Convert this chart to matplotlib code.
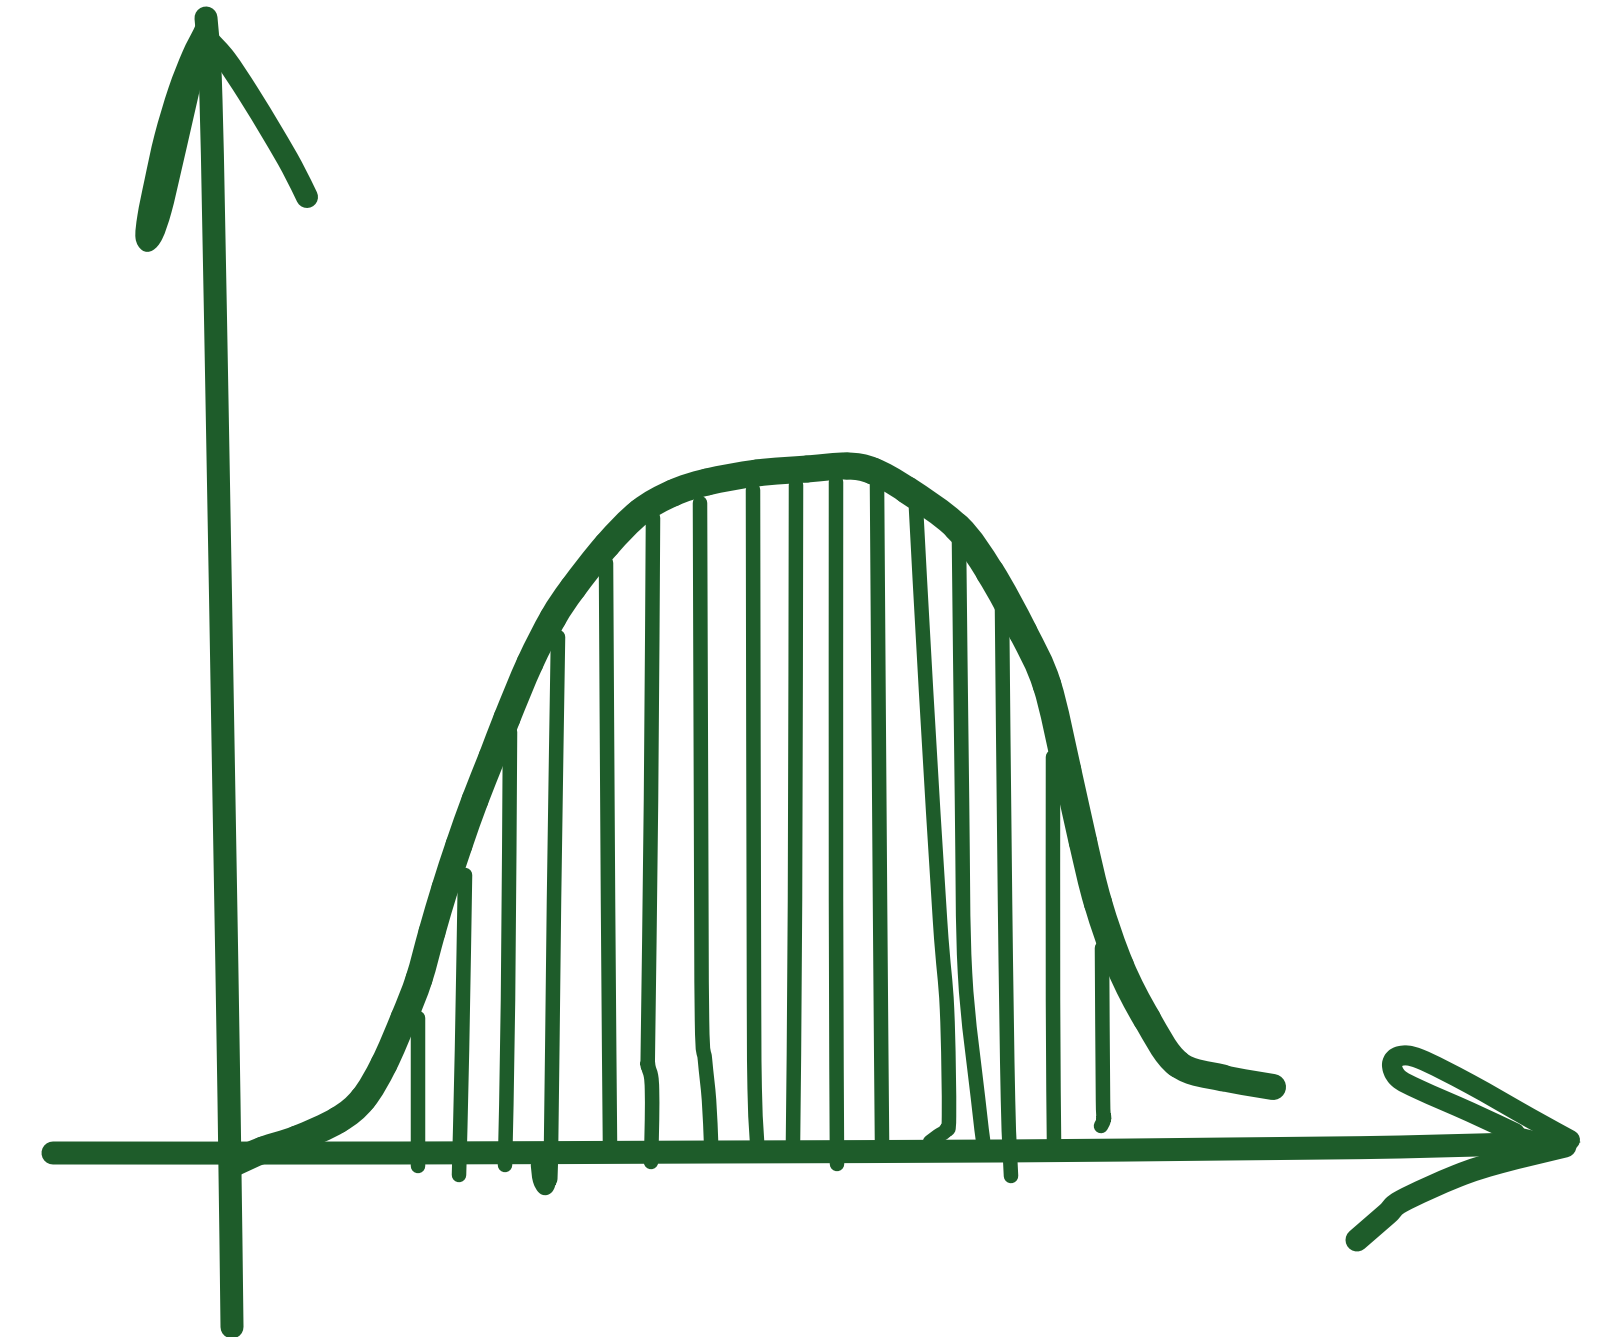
#!/usr/bin/env python3
import numpy as np
from matplotlib.pyplot import figure
from matplotlib.path import Path
from matplotlib.patches import PathPatch

# everything is in picture pixels (1604 x 1337), y grows downward
INK = '#1e5c2a'
PT = 0.72  # px -> points at dpi 100

#%% hand drawn axes
yaxis_x = [232, 229, 224, 217, 211, 206]
yaxis_y = [1327, 1100, 800, 400, 100, 18]

xaxis_x = [53, 400, 716, 1000, 1228, 1400, 1540]
xaxis_y = [1153, 1153, 1152, 1151, 1149, 1147, 1143]

# arrow head on top of y axis
yhead_lobe_x = [205, 195, 184, 170, 156, 146, 139, 137, 143, 152, 161, 170, 180, 191, 201, 210, 213]
yhead_lobe_y = [10, 30, 52, 88, 135, 180, 215, 238, 249, 249, 238, 212, 170, 122, 78, 38, 18]
yhead_right_x = [210, 226, 248, 273, 292, 307]
yhead_right_y = [42, 60, 93, 134, 167, 197]

# arrow head on right of x axis
xhead_upper_x = [1515, 1470, 1420, 1398, 1392, 1400, 1420, 1470, 1530, 1570]
xhead_upper_y = [1133, 1112, 1090, 1078, 1064, 1056, 1059, 1084, 1118, 1140]
xhead_lower_x = [1565, 1500, 1457, 1402, 1387, 1357]
xhead_lower_y = [1146, 1162, 1176, 1201, 1214, 1240]
xhead_tip_x = [1581, 1505, 1495]
xhead_tip_y = [1142, 1124, 1168]

#%% the bump
curve_x = [236, 263, 297, 338, 363, 384, 404, 419, 432, 445, 459, 475, 492, 507, 530, 553, 573,
           607, 640, 673, 707, 757, 807, 847, 873, 907, 957, 990, 1023, 1047, 1067,
           1083, 1098, 1120, 1147, 1178, 1223, 1273]
curve_y = [1162, 1150, 1139, 1120, 1099, 1064, 1018, 979, 932, 888, 845, 800, 757, 718, 663, 618, 588,
           545, 512, 493, 482, 473, 469, 466, 471, 490, 527, 572, 632, 685, 770,
           842, 903, 966, 1019, 1064, 1078, 1087]

#%% hatching strokes under the bump
hatch_x = [
    [418, 418, 418],
    [465, 462, 459],
    [510, 508, 505],
    [558, 554, 551, 549, 545, 540, 538],
    [606, 608, 610],
    [653, 651, 648, 648, 651, 652, 652, 651],
    [700, 701, 702, 705, 709, 711],
    [753, 754, 755, 757],
    [796, 795, 793],
    [836, 836, 837],
    [877, 880, 882],
    [916, 926, 940, 947, 949, 946, 938, 930],
    [959, 962, 965, 978, 983],
    [1002, 1005, 1008, 1011],
    [1053, 1053, 1054],
    [1102, 1103, 1104, 1101],
]
hatch_y = [
    [1018, 1100, 1166],
    [875, 1050, 1175],
    [732, 1000, 1165],
    [637, 900, 1150, 1180, 1188, 1180, 1165],
    [563, 900, 1146],
    [518, 800, 1040, 1064, 1076, 1090, 1120, 1162],
    [503, 800, 1020, 1060, 1100, 1141],
    [490, 1000, 1100, 1141],
    [485, 900, 1141],
    [482, 900, 1164],
    [483, 900, 1141],
    [508, 690, 920, 1009, 1116, 1130, 1136, 1142],
    [542, 800, 973, 1098, 1140],
    [607, 900, 1100, 1176],
    [757, 1000, 1141],
    [948, 1100, 1118, 1126],
]


def bezier_pieces(xs, ys, closed=False):
    """catmull-rom through the points, returned as cubic bezier pieces"""
    p = np.column_stack([xs, ys]).astype(float)
    n = len(p)
    if closed:
        idx = lambda i: p[i % n]
        count = n
    else:
        idx = lambda i: p[min(max(i, 0), n - 1)]
        count = n - 1
    pieces = []
    for i in range(count):
        p0, p1, p2, p3 = idx(i - 1), idx(i), idx(i + 1), idx(i + 2)
        pieces.append((p1, p1 + (p2 - p0) / 6, p2 - (p3 - p1) / 6, p2))
    return pieces


def smooth_path(xs, ys, closed=False):
    pieces = bezier_pieces(xs, ys, closed)
    verts = [pieces[0][0]]
    codes = [Path.MOVETO]
    for _, c1, c2, e in pieces:
        verts += [c1, c2, e]
        codes += [Path.CURVE4] * 3
    if closed:
        verts.append(verts[0])
        codes.append(Path.CLOSEPOLY)
    return Path(verts, codes)


def stroke(ax, xs, ys, width_px):
    ax.add_patch(PathPatch(smooth_path(xs, ys), fill=False, ec=INK, lw=width_px * PT,
                           capstyle='round', joinstyle='round'))


def blob(ax, xs, ys, edge_px=3):
    ax.add_patch(PathPatch(smooth_path(xs, ys, closed=True), fc=INK, ec=INK,
                           lw=edge_px * PT, joinstyle='round'))


def curve_width(x):
    # the right flank was drawn with a heavier hand
    return np.interp(x, [0, 900, 1000, 1150, 1300], [27, 27, 29, 28, 25])


fg = figure(figsize=(16.04, 13.37), dpi=100)
ax = fg.add_axes([0, 0, 1, 1])
ax.set_xlim(0, 1604)
ax.set_ylim(1337, 0)
ax.axis('off')

for hx, hy in zip(hatch_x, hatch_y):
    stroke(ax, hx, hy, 14.5)

stroke(ax, xaxis_x, xaxis_y, 23)
stroke(ax, yaxis_x, yaxis_y, 23)

blob(ax, yhead_lobe_x, yhead_lobe_y)
stroke(ax, yhead_right_x, yhead_right_y, 22)

stroke(ax, xhead_upper_x, xhead_upper_y, 20)
stroke(ax, xhead_lower_x, xhead_lower_y, 23)
ax.fill(xhead_tip_x, xhead_tip_y, color=INK, lw=0)

# the bump, piece by piece so the pen pressure can change along it
for s, c1, c2, e in bezier_pieces(curve_x, curve_y):
    w = curve_width((s[0] + e[0]) / 2)
    piece = Path([s, c1, c2, e], [Path.MOVETO] + [Path.CURVE4] * 3)
    ax.add_patch(PathPatch(piece, fill=False, ec=INK, lw=w * PT,
                           capstyle='round', joinstyle='round'))

fg.savefig('out.png', dpi=100, facecolor='white')
